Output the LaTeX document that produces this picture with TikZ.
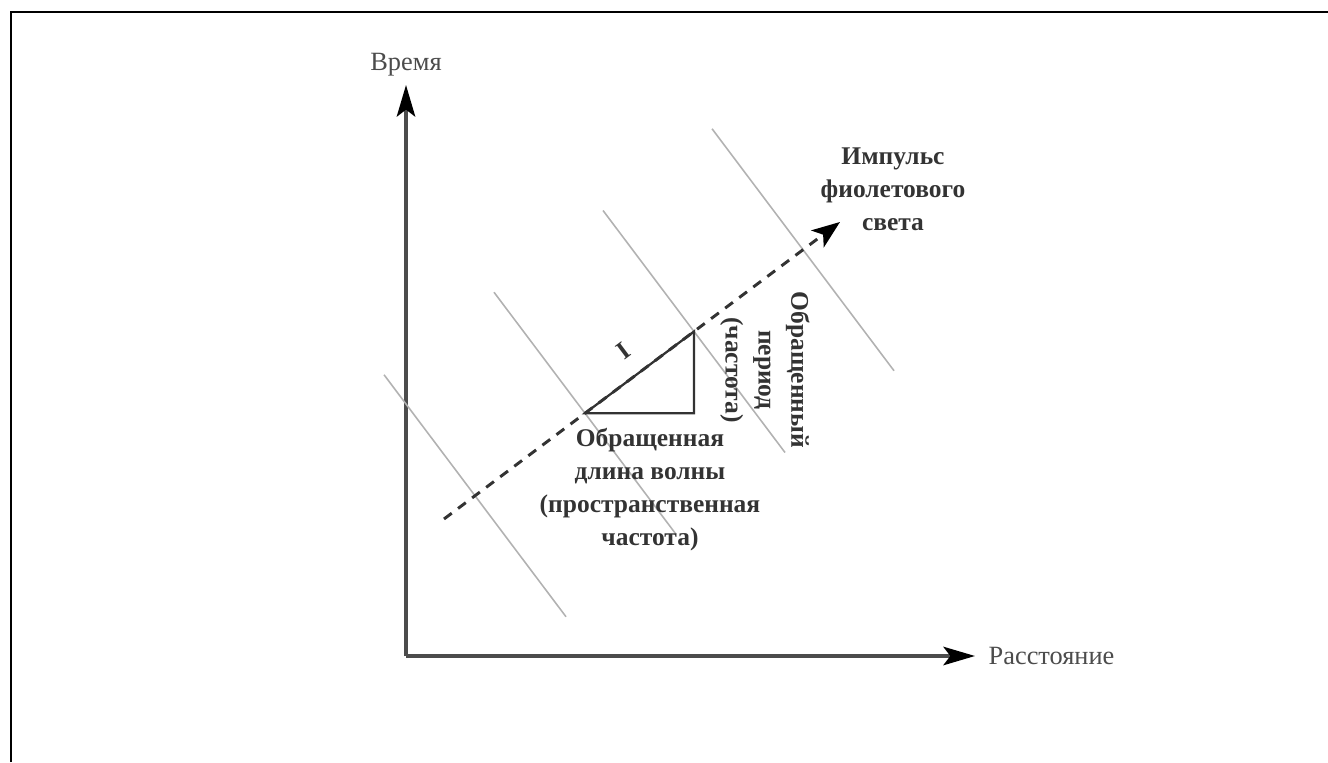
\documentclass[tikz,border=0pt]{standalone}
\usepackage{fontspec}
\setmainfont{Liberation Serif}
\usetikzlibrary{positioning,arrows.meta}

\begin{document}
\begin{tikzpicture}[
        axis/.style={-{Stealth[length=18pt, width=10.5pt, inset=4pt, color=black]}, line width=2pt, draw=black!70},
        wave/.style={line width=0.9pt, draw=black!30},
        pulse/.style={dash pattern=on 5.5pt off 4.5pt, line width=1.7pt, draw=black!80, -{Stealth[length=16pt, width=12pt, inset=4pt, color=black]}},
        tri/.style={line width=1.3pt, draw=black!80},
        axislabel/.style={font=\fontsize{15}{18}\selectfont, text=black!70},
        lbl/.style={font=\fontsize{14.5}{18.7}\selectfont\bfseries, text=black!80, align=center}
    ]
    \useasboundingbox (0,0) rectangle (26.56,15.24);
    % frame
    \draw[line width=1.5pt] (0.22,0) -- (0.22,15.0) -- (26.56,15.0);

    % axes
    \coordinate (origin) at (8.12,2.12);
    \coordinate (ytip) at (8.12,13.54);
    \coordinate (xtip) at (19.5,2.12);
    \draw[axis] (origin) -- (ytip);
    \draw[axis] (origin) -- (xtip);
    \node[axislabel, above=0.05cm of ytip] (time) {Время};
    \node[axislabel, right=0.15cm of xtip] (dist) {Расстояние};

    % wave fronts
    \coordinate (w1) at (9.5,5.325);
    \coordinate (w2) at (11.7,6.975);
    \coordinate (w3) at (13.88,8.61);
    \coordinate (w4) at (16.06,10.245);
    \foreach \i in {1,...,4}
        \draw[wave] (w\i) ++(-1.82,2.42) -- ++(3.64,-4.84);

    % violet pulse
    \coordinate (start) at (8.88,4.86);
    \coordinate (tip) at (16.8,10.8);
    \draw[pulse] (start) -- (tip);

    % triangle
    \coordinate (corner) at (w3 |- w2);
    \draw[tri] (w2) -- node[midway, above, sloped, inner sep=10pt, font=\fontsize{14.5}{18}\selectfont\bfseries, text=black!80] (one) {I} (w3) -- (corner) -- cycle;

    % labels
    \node[lbl] (pulselabel) at (17.86,11.46) {Импульс\\фиолетового\\света};
    \node[lbl] (wavelength) at (13.0,5.45) {Обращенная\\длина волны\\(пространственная\\частота)};
    \node[lbl, rotate=-90] (period) at (15.3,7.84) {Обращенный\\период\\(частота)};
\end{tikzpicture}
\end{document}
